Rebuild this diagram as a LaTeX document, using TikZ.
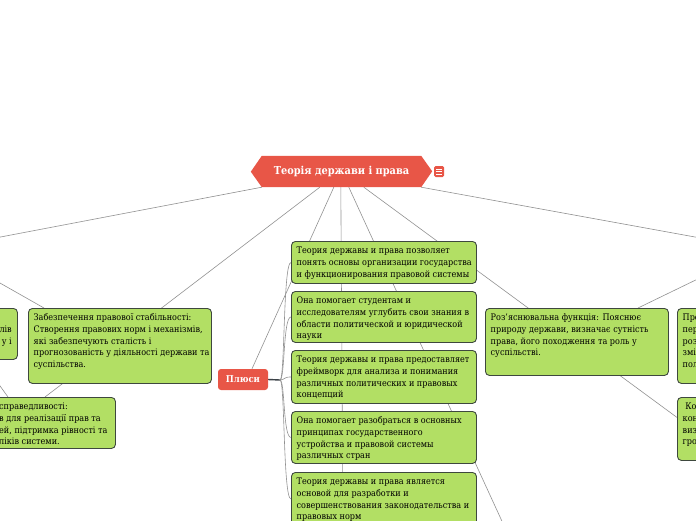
\documentclass[tikz,border=0pt]{standalone}
\usepackage{fontspec}
\setmainfont{DejaVu Serif}[FakeStretch=0.9]
\usetikzlibrary{backgrounds,calc}
\definecolor{leafgreen}{RGB}{178,223,100}
\definecolor{leafedge}{RGB}{62,72,62}
\definecolor{mapred}{RGB}{232,86,71}
\definecolor{linkgray}{RGB}{145,145,145}
\definecolor{darkline}{RGB}{60,66,72}
\tikzset{
  leafbox/.style={draw=leafedge, fill=leafgreen, rounded corners=4pt, line width=0.9pt, inner sep=0pt, anchor=north west},
  leaftext/.style={inner sep=0pt, anchor=north west, align=left, font=\fontsize{9}{11.7}\selectfont},
  link/.style={draw=linkgray, line width=0.6pt},
}
\newcommand{\leaf}[6]{%
  \node[leafbox, minimum width=#4pt, minimum height=#5pt] (#1) at (#2,#3) {};
  \node[leaftext] (#1t) at ([xshift=5.5pt,yshift=-4.6pt]#1.north west) {\rule{0pt}{8pt}#6};
}
\begin{document}
\begin{tikzpicture}[x=1pt,y=-1pt]
\useasboundingbox (0,0) rectangle (696,520);
\clip (0,0) rectangle (696,520);

% title
\node[minimum width=159pt, minimum height=31pt, inner sep=0pt] (title) at (341.5,171.5) {};
\fill[mapred] (title.north west) -- (title.north east) -- ++(11,15.5) -- (title.south east) -- (title.south west) -- ++(-11,-15.5) -- cycle;
\node[text=white, font=\bfseries\fontsize{10.9}{12}\selectfont, inner sep=0pt] (titlet) at (341.5,171.5) {Теорія держави і права};
\node[fill=mapred, rounded corners=1.5pt, minimum width=10pt, minimum height=11pt, inner sep=0pt] (icon) at (439,171.5) {};
\draw[white, line width=0.8pt] ([xshift=-3pt,yshift=2.5pt]icon.center) -- ++(6,0)
  ([xshift=-3pt]icon.center) -- ++(6,0)
  ([xshift=-3pt,yshift=-2.5pt]icon.center) -- ++(6,0);

% Plusy
\node[fill=mapred, rounded corners=3pt, minimum width=50pt, minimum height=21pt, inner sep=0pt, text=white, font=\bfseries\fontsize{9.4}{9.4}\selectfont] (plus) at (243,379.5) {Плюси};

% middle leaves
\leaf{b1}{291}{241}{185}{42}{Теория державы и права позволяет\\понять основы организации государства\\и функционирования правовой системы}
\leaf{b2}{291}{291}{185}{51}{Она помогает студентам и\\исследователям углубить свои знания в\\области политической и юридической\\науки}
\leaf{b3}{291}{350}{185}{53}{Теория державы и права предоставляет\\фреймворк для анализа и понимания\\различных политических и правовых\\концепций}
\leaf{b4}{291}{411}{185}{52}{Она помогает разобраться в основных\\принципах государственного\\устройства и правовой системы\\различных стран}
\leaf{b5}{291}{472}{185}{53}{Теория державы и права является\\основой для разработки и\\совершенствования законодательства и\\правовых норм}

% left leaves
\leaf{zab}{28}{308}{183}{75}{Забезпечення правової стабільності:\\Створення правових норм і механізмів,\\які забезпечують сталість і\\прогнозованість у діяльності держави та\\суспільства.}
\node[leafbox, minimum width=97pt, minimum height=51pt] (prev) at (-80,308) {};
\node[leaftext, anchor=north east, align=right] (prevt) at (12,324.3) {\rule{0pt}{8pt}лів\\у і};
\node[leafbox, minimum width=195pt, minimum height=51pt] (sprav) at (-80,397) {};
\node[leaftext] (spravt) at ([xshift=79pt,yshift=-4.6pt]sprav.north west) {\rule{0pt}{8pt}справедливості:\\в для реалізації прав та\\ей, підтримка рівності та\\ліків системи.};

% right leaves
\leaf{roz}{485}{308}{183}{67}{Роз'яснювальна функція: Пояснює\\природу держави, визначає сутність\\права, його походження та роль у\\суспільстві.}
\leaf{pr}{677}{308}{100}{75}{Про\\пер\\роз\\змі\\пол}
\leaf{kon}{677}{397}{100}{63}{\ Кон\\кон\\виз\\гро}

% connectors
\begin{pgfonlayer}{background}
\coordinate (offL1) at (-10,239);
\coordinate (offL2) at (-30,266);
\coordinate (offL3) at (-10,372);
\coordinate (offR1) at (706,239);
\coordinate (offR2) at (706,275);
\coordinate (offB1) at (343,530);
\coordinate (offB2) at (506,530);
\coordinate (jn) at (280,380);
\draw[link] (title.south west) -- (offL1);
\draw[link] ([xshift=58pt]title.south west) -- ([xshift=125pt]sprav.north west);
\draw[link] ([xshift=72pt]title.south west) -- ([xshift=9pt]plus.north);
\draw[link] ([xshift=79pt]title.south west) -- (offB1);
\draw[link] ([xshift=87pt]title.south west) -- (offB2);
\draw[link] ([xshift=102pt]title.south west) -- ([yshift=11.5pt]kon.west);
\draw[link] (title.south east) -- (offR1);
\draw[link] (offL2) -- ([xshift=16pt]zab.north west);
\draw[link] (offL3) -- ([xshift=88pt]sprav.north west);
\draw[link] (offR2) -- ([xshift=153pt]roz.north west);
\draw[draw=darkline, line width=1.4pt] (plus.east) -- (jn);
\foreach \b in {b1,b2,b3,b4,b5}
  \draw[link] (jn) .. controls +(5,0) and +(-8,0) .. (\b.west);
\end{pgfonlayer}
\end{tikzpicture}
\end{document}
